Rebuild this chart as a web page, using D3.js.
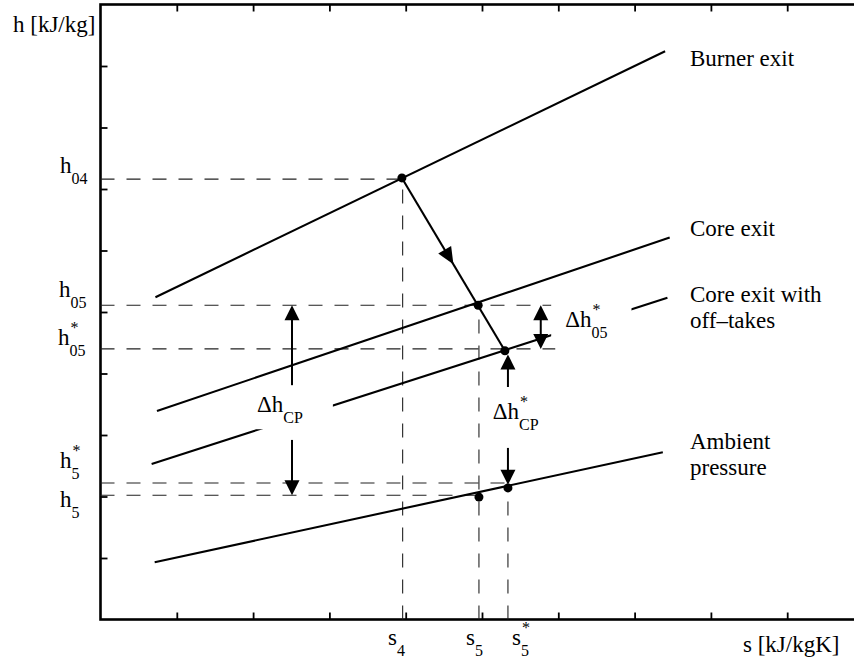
<!DOCTYPE html>
<html>
<head>
<meta charset="utf-8">
<script src="https://cdn.jsdelivr.net/npm/d3@7"></script>
<style>
  body { margin: 0; background: #fff; }
  svg { display: block; }
  text { fill: #000; }
</style>
</head>
<body>
<svg id="chart" width="854" height="664"></svg>
<script>
// ---- Isobars in the h–s plane, each a straight segment [s, h] -> [s, h] ----
const isobarNames  = ["Burner exit", "Core exit", "Core exit with off–takes", "Ambient pressure"];
const burnerExit   = [[0.72, 5.24], [7.40, 9.24]];
const coreExit     = [[0.74, 3.39], [7.46, 6.21]];
const coreOffTakes = [[0.67, 2.53], [7.43, 5.23]];
const ambientLine  = [[0.71, 0.93], [7.37, 2.72]];

// ---- State points (s, h) ----
const stateKeys = ["04", "05", "05*", "5", "5*"];
const stateS    = [3.95, 4.95, 5.30, 4.96, 5.34];
const stateH    = [7.18, 5.11, 4.37, 1.99, 2.14];

// ---- Reference levels read on the axes ----
const hLevels    = [7.16, 5.11, 4.40, 2.22, 2.02];   // h04, h05, h05*, h5*, h5
const hLevelEnds = [3.95, 5.96, 5.96, 5.37, 4.96];   // s where each dashed guide stops
const sLevels    = [3.96, 4.96, 5.34];               // s4, s5, s5*
const sLevelTops = [7.18, 5.11, 2.14];               // h where each vertical guide starts

// ---- Axis tick values ----
const sTicks = [1, 2, 3, 4, 5, 6, 7, 8, 9];
const hTicks = [1, 2, 3, 4, 5, 6, 7, 8, 9];

// ---- Enthalpy-difference arrows: s position, tail h, tip h ----
const arrowS    = [2.51, 2.51, 5.34, 5.34];
const arrowTail = [3.81, 2.92, 3.78, 2.79];
const arrowTip  = [5.11, 2.02, 4.31, 2.19];
// double-headed arrow for Δh*05
const dblArrow  = { s: 5.77, h: [5.11, 4.40] };

const SERIF = '"Liberation Serif", Tinos, "Times New Roman", Times, "Nimbus Roman", "DejaVu Serif", "Noto Serif", serif';

const svg = d3.select("#chart");
const x = d3.scaleLinear().domain([0, 10]).range([100.5, 863.5]);
const y = d3.scaleLinear().domain([0, 10]).range([619.5, 4.5]);

const FONT = 23, SUB = 16;
const line = d3.line().x(d => x(d[0])).y(d => y(d[1]));

// ---- axes box with inward ticks on all sides ----
const axisG = svg.append("g");
function tickAxis(axis, tx, ty, vals) {
  const g = axisG.append("g").attr("transform", `translate(${tx},${ty})`)
    .call(axis.tickValues(vals).tickSize(-7).tickSizeOuter(0).tickFormat(""));
  g.select(".domain").remove();
  g.selectAll(".tick line").attr("stroke", "#000").attr("stroke-width", 1.8);
}
tickAxis(d3.axisBottom(x), 0, y(0), sTicks);
tickAxis(d3.axisTop(x), 0, y(10), sTicks);
tickAxis(d3.axisLeft(y), x(0), 0, hTicks);
tickAxis(d3.axisRight(y), x(10), 0, hTicks);
axisG.append("rect")
  .attr("x", x(0)).attr("y", y(10))
  .attr("width", x(10) - x(0)).attr("height", y(0) - y(10))
  .attr("fill", "none").attr("stroke", "#000").attr("stroke-width", 2.6);

// ---- dashed guides ----
const guides = svg.append("g")
  .attr("stroke", "#222").attr("stroke-width", 1.1).attr("stroke-dasharray", "14,12").attr("fill", "none");
hLevels.forEach((h, i) => {
  guides.append("path").attr("d", line([[0, h], [hLevelEnds[i], h]]));
});
sLevels.forEach((s, i) => {
  guides.append("path").attr("d", line([[s, 0], [s, sLevelTops[i]]]));
});

// ---- isobars ----
const isoG = svg.append("g").attr("stroke", "#000").attr("stroke-width", 2.1).attr("fill", "none");
[burnerExit, coreExit, coreOffTakes, ambientLine].forEach(seg => {
  isoG.append("path").attr("d", line(seg));
});

// ---- expansion path 04 -> 05* with a mid arrowhead ----
const p04 = [stateS[0], stateH[0]], p05s = [stateS[2], stateH[2]];
svg.append("path").attr("d", line([p04, p05s]))
  .attr("stroke", "#000").attr("stroke-width", 2.1).attr("fill", "none");

function head(tipX, tipY, dx, dy, len, wid) {
  const n = Math.hypot(dx, dy), ux = dx / n, uy = dy / n;
  const bx = tipX - ux * len, by = tipY - uy * len;
  const px = -uy * wid / 2, py = ux * wid / 2;
  svg.append("path")
    .attr("d", `M${tipX},${tipY}L${bx + px},${by + py}L${bx - px},${by - py}Z`)
    .attr("fill", "#000");
}
{
  const ax = x(p04[0]), ay = y(p04[1]), bx = x(p05s[0]), by = y(p05s[1]);
  head(ax + (bx - ax) * 0.5, ay + (by - ay) * 0.5, bx - ax, by - ay, 17, 15);
}

// ---- text helper: main symbol with optional subscript and superscript ----
function txt(g, px, py, size, s) {
  return g.append("text").attr("x", px).attr("y", py)
    .attr("font-family", SERIF).attr("font-size", size).text(s);
}
function symbol(g, px, py, main, sub, sup) {
  const t = txt(g, px, py, FONT, main);
  const w = t.node().getComputedTextLength();
  if (sub) txt(g, px + w, py + 11, SUB, sub);
  if (sup) txt(g, px + w + 1, py - 12, SUB, sup);
  return g;
}
function masked(px, py, main, sub, sup, padL, padR) {
  const g = svg.append("g");
  symbol(g, px, py, main, sub, sup);
  const b = g.node().getBBox();
  g.insert("rect", ":first-child")
    .attr("x", b.x - padL).attr("y", b.y - 3)
    .attr("width", b.width + padL + padR).attr("height", b.height + 6)
    .attr("fill", "#fff");
  return g;
}

// ---- difference labels ----
masked(x(2.05), y(3.37), "Δh", "CP", null, 20, 30);
masked(x(6.09), y(4.76), "Δh", "05", "*", 14, 24);
symbol(svg.append("g"), x(5.14), y(3.26), "Δh", "CP", "*");

// ---- arrows ----
const arrowG = svg.append("g");
arrowS.forEach((s, i) => {
  const X = x(s), y0 = y(arrowTail[i]), y1 = y(arrowTip[i]);
  const dir = Math.sign(y1 - y0);
  arrowG.append("line").attr("x1", X).attr("x2", X).attr("y1", y0).attr("y2", y1 - dir * 12)
    .attr("stroke", "#000").attr("stroke-width", 2);
  head(X, y1, 0, dir, 15, 15);
});
{
  const X = x(dblArrow.s), ya = y(dblArrow.h[0]), yb = y(dblArrow.h[1]);
  arrowG.append("line").attr("x1", X).attr("x2", X).attr("y1", ya + 12).attr("y2", yb - 12)
    .attr("stroke", "#000").attr("stroke-width", 2);
  head(X, ya, 0, -1, 15, 15);
  head(X, yb, 0, 1, 15, 15);
}

// ---- state points ----
svg.append("g").selectAll("circle").data(stateKeys).join("circle")
  .attr("cx", (d, i) => x(stateS[i])).attr("cy", (d, i) => y(stateH[i]))
  .attr("r", 4.5).attr("fill", "#000");

// ---- axis titles ----
txt(svg, 13, 32, FONT, "h [kJ/kg]");
txt(svg, 743, 652, FONT, "s [kJ/kgK]");

// ---- level labels on the h axis ----
const hLabelSub = ["04", "05", "05", "5", "5"];
const hLabelSup = [null, null, "*", "*", null];
const hLabelX   = [60, 59, 58, 60, 60];
const hLabelY   = [173, 297, 345, 468, 507];
hLabelSub.forEach((sub, i) => symbol(svg.append("g"), hLabelX[i], hLabelY[i], "h", sub, hLabelSup[i]));

// ---- level labels on the s axis ----
const sLabelSub = ["4", "5", "5"];
const sLabelSup = [null, null, "*"];
const sLabelX   = [388, 466, 512];
sLabelSub.forEach((sub, i) => symbol(svg.append("g"), sLabelX[i], 645, "s", sub, sLabelSup[i]));

// ---- isobar names ----
const nameLines = [["Burner exit"], ["Core exit"], ["Core exit with", "off–takes"], ["Ambient", "pressure"]];
const nameY = [66, 236, 302, 449];
nameLines.forEach((ls, i) => {
  const t = svg.append("text").attr("x", 690).attr("y", nameY[i])
    .attr("font-family", SERIF).attr("font-size", FONT);
  ls.forEach((s, j) => t.append("tspan").attr("x", 690).attr("dy", j ? 26 : 0).text(s));
});
</script>
</body>
</html>
